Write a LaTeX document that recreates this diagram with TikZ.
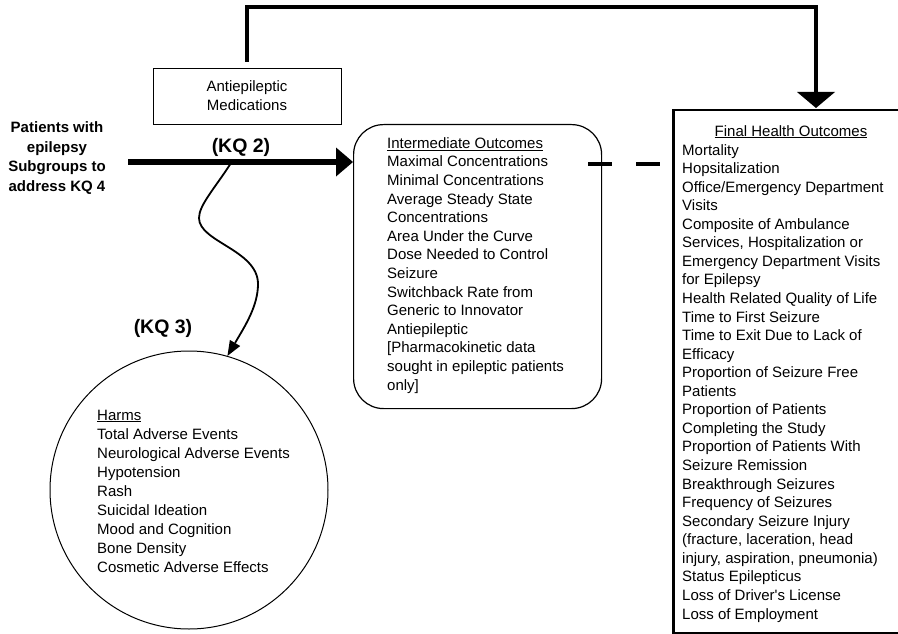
\documentclass[tikz,border=0pt]{standalone}
\usepackage{fontspec}
\setmainfont{Liberation Sans}
\usetikzlibrary{arrows.meta}
\begin{document}
\begin{tikzpicture}[x=1pt,y=-1pt,
  body/.style={font=\fontsize{15}{18.6}\selectfont, inner sep=0pt, align=left},
  boldtxt/.style={font=\fontsize{15}{19.5}\selectfont\bfseries, inner sep=0pt, align=center},
  kq/.style={font=\fontsize{19.5}{22}\selectfont\bfseries, inner sep=0pt},
  topline/.style={line width=4.5pt},
  mainline/.style={line width=5.5pt},
  curveline/.style={line width=1.8pt},
  medbox/.style={draw, line width=0.8pt, minimum width=188pt, minimum height=56pt, align=center, font=\fontsize{15}{19}\selectfont},
  interbox/.style={draw, line width=1.2pt, rounded corners=30pt, minimum width=248pt, minimum height=284pt, anchor=north west},
  finalbox/.style={draw, line width=2.5pt, anchor=north west, minimum width=240pt, minimum height=523pt},
  harmcircle/.style={draw, circle, line width=1pt, minimum size=278pt, inner sep=0pt}
]
\useasboundingbox (0,0) rectangle (898,634);
\clip (0,0) rectangle (898,634);
\fill[white] (0,0) rectangle (898,634);

% nodes
\node[medbox] (med) at (247,96) {Antiepileptic\\Medications};
\node[boldtxt] (patients) at (57,158) {Patients with\\epilepsy\\Subgroups to\\address KQ 4};
\node[kq] (kq2) at (241,147) {(KQ 2)};
\node[kq] (kq3) at (163,328) {(KQ 3)};

\node[interbox] (inter) at (353,124) {};
\node[body, anchor=base west] (intertext) at (387,390) {\underline{Intermediate Outcomes}\\Maximal Concentrations\\Minimal Concentrations\\Average Steady State\\Concentrations\\Area Under the Curve\\Dose Needed to Control\\Seizure\\Switchback Rate from\\Generic to Innovator\\Antiepileptic\\{[}Pharmacokinetic data\\sought in epileptic patients\\only]};

\node[finalbox] (final) at (672,109) {};
\node[body, anchor=base] (ftitle) at (791,136) {\underline{Final Health Outcomes}};
\node[body, font=\fontsize{15}{18.56}\selectfont, anchor=base west] (fitems) at (682,619) {Mortality\\Hopsitalization\\Office/Emergency Department\\Visits\\Composite of Ambulance\\Services, Hospitalization or\\Emergency Department Visits\\for Epilepsy\\Health Related Quality of Life\\Time to First Seizure\\Time to Exit Due to Lack of\\Efficacy\\Proportion of Seizure Free\\Patients\\Proportion of Patients\\Completing the Study\\Proportion of Patients With\\Seizure Remission\\Breakthrough Seizures\\Frequency of Seizures\\Secondary Seizure Injury\\(fracture, laceration, head\\injury, aspiration, pneumonia)\\Status Epilepticus\\Loss of Driver\textquotesingle s License\\Loss of Employment};

\node[harmcircle] (harms) at (189,490) {};
\node[body, font=\fontsize{15}{19}\selectfont, anchor=base west] (harmstext) at (97,572) {\underline{Harms}\\Total Adverse Events\\Neurological Adverse Events\\Hypotension\\Rash\\Suicidal Ideation\\Mood and Cognition\\Bone Density\\Cosmetic Adverse Effects};

% connectors
\coordinate (topy) at (0,7);
\coordinate (fin) at (816,108);
\draw[topline, shorten <=6pt, -{Triangle[width=38pt,length=16pt,line width=0pt]}] (med.north) -- (med.north |- topy) -| (fin);

\coordinate (pstart) at (128,162);
\draw[mainline, -{Triangle[width=29pt,length=17pt,line width=0pt]}] (pstart) -- (inter.west |- pstart);

\coordinate (d1) at (588,164);
\coordinate (d2) at (660,164);
\draw[topline, dash pattern=on 24pt off 24pt] (d1) -- (d2);

\coordinate (cstart) at (231,163);
\draw[curveline, -{Triangle[width=12pt,length=15pt,line width=0pt]}] (cstart) .. controls (215,188) and (199,205) .. (199,218) .. controls (199,242) and (258,250) .. (258,284) .. controls (258,306) and (245,326) .. (harms.74);
\end{tikzpicture}
\end{document}
